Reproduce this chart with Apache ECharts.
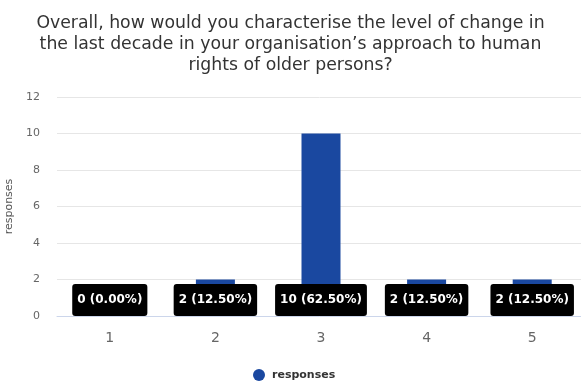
<!DOCTYPE html>
<html>
<head>
<meta charset="utf-8">
<script src="https://cdn.jsdelivr.net/npm/echarts@6/dist/echarts.min.js"></script>
<style>html,body{margin:0;padding:0;background:#fff}#c{width:581px;height:382px}</style>
</head>
<body>
<div id="c"></div>
<script>
var titleText = "Overall, how would you characterise the level of change in\nthe last decade in your organisation\u2019s approach to human\nrights of older persons?";
var categories = ["1", "2", "3", "4", "5"];
var responses = [0, 2, 10, 2, 2];
var seriesName = "responses";
var yAxisName = "responses";

var total = responses.reduce(function (a, b) { return a + b; }, 0);
var chart = echarts.init(document.getElementById('c'), null, { renderer: 'canvas' });
chart.setOption({
  animation: false,
  title: {
    text: titleText,
    left: 'center',
    top: 8,
    textStyle: { fontFamily: 'DejaVu Sans', fontSize: 17.3, fontWeight: 'normal', color: '#333', lineHeight: 21 }
  },
  legend: {
    top: 364,
    left: 248,
    itemWidth: 12, itemHeight: 12,
    icon: 'circle',
    textStyle: { fontFamily: 'DejaVu Sans', fontSize: 11, fontWeight: 'bold', color: '#333', padding: [0, 0, 0, 2] },
    data: [seriesName]
  },
  grid: { left: 57, top: 97, right: -4, height: 219, containLabel: false, outerBoundsMode: 'none' },
  xAxis: {
    type: 'category',
    data: categories,
    axisLine: { lineStyle: { color: '#ccd6eb' } },
    axisTick: { show: false },
    axisLabel: { fontFamily: 'DejaVu Sans', fontSize: 14, color: '#666', margin: 15 }
  },
  yAxis: {
    type: 'value',
    min: 0, max: 12, interval: 2,
    name: yAxisName,
    nameLocation: 'middle',
    nameGap: 39.5,
    nameTextStyle: { fontFamily: 'DejaVu Sans', fontSize: 11, color: '#555' },
    axisLine: { show: false },
    axisTick: { show: false },
    splitLine: { lineStyle: { color: '#e6e6e6' } },
    axisLabel: { fontFamily: 'DejaVu Sans', fontSize: 11, color: '#666', margin: 17 }
  },
  series: [{
    name: seriesName,
    type: 'bar',
    data: responses,
    barWidth: 39,
    itemStyle: { color: '#1a48a0' },
    label: {
      show: true,
      position: 'insideBottom',
      distance: 0,
      formatter: function (p) { return p.value + ' (' + (p.value / total * 100).toFixed(2) + '%)'; },
      backgroundColor: '#000',
      borderRadius: 3,
      padding: [10, 5, 10, 5],
      color: '#fff',
      fontFamily: 'DejaVu Sans',
      fontSize: 12,
      fontWeight: 'bold'
    }
  }]
});
</script>
</body>
</html>
